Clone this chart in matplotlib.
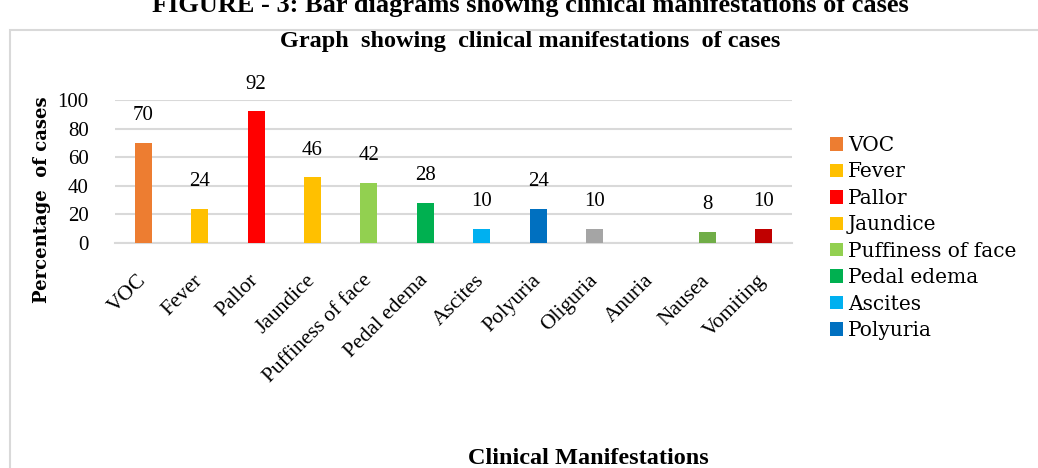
import matplotlib.pyplot as plt
from matplotlib.patches import Patch, Rectangle
from matplotlib.transforms import ScaledTranslation

# clinical manifestations, percentage of cases
symptoms = ["VOC", "Fever", "Pallor", "Jaundice", "Puffiness of face", "Pedal edema",
            "Ascites", "Polyuria", "Oliguria", "Anuria", "Nausea", "Vomiting"]
percent = [70, 24, 92, 46, 42, 28, 10, 24, 10, 0, 8, 10]
colors = ["#ED7D31", "#FFC000", "#FF0000", "#FFC000", "#92D050", "#00B050",
          "#00B0F0", "#0070C0", "#A5A5A5", "#FFFFFF", "#70AD47", "#C00000"]
y_ticks = [0, 20, 40, 60, 80, 100]
n_legend = 8  # legend box only has room for the first eight entries

serif = ["Liberation Serif", "DejaVu Serif"]
grid_c = "#d9d9d9"

W, H = 1038, 468
fig = plt.figure(figsize=(W / 100, H / 100), dpi=100)

# chart frame (runs off the right and bottom edges)
fig.patches.append(Rectangle((10 / W, -0.1), 1.2, (H - 30) / H + 0.1,
                             transform=fig.transFigure, fill=False,
                             edgecolor=grid_c, lw=1.5))

fig.text(530 / W, 1 - 12 / H, "FIGURE - 3: Bar diagrams showing clinical manifestations of cases",
         ha="center", va="baseline", family=serif, weight="bold", fontsize=19)
fig.text(530 / W, 1 - 42 / H, "Graph  showing  clinical manifestations  of cases",
         ha="center", va="center", family=serif, weight="bold", fontsize=17.5)

ax = fig.add_axes([115 / W, 225 / H, 677 / W, 143 / H])
x = range(len(symptoms))
ax.bar(x, percent, width=0.3, color=colors, zorder=3)
for xi, v in zip(x, percent):
    if v > 0:
        ax.text(xi, v + 19, str(v), ha="center", va="center",
                family=serif, fontsize=15)

ax.set_xlim(-0.5, len(symptoms) - 0.5)
ax.set_ylim(0, 100)
ax.set_yticks(y_ticks)
ax.set_yticklabels([str(t) for t in y_ticks], family=serif, fontsize=15)
ax.set_xticks(list(x))
ax.set_xticklabels(symptoms, rotation=45, ha="right", va="center",
                   rotation_mode="anchor", family=serif, fontsize=15.5)
shift = ScaledTranslation(5 / 100, 0, fig.dpi_scale_trans)
for lbl in ax.get_xticklabels():
    lbl.set_transform(lbl.get_transform() + shift)
ax.tick_params(length=0)
ax.tick_params(axis="x", pad=25)
ax.tick_params(axis="y", pad=19)
ax.grid(axis="y", color=grid_c, lw=1.5, zorder=0)
for s in ["top", "right", "left"]:
    ax.spines[s].set_visible(False)
ax.spines["bottom"].set_color(grid_c)
ax.spines["bottom"].set_linewidth(1.5)

fig.text(42 / W, 1 - 200 / H, "Percentage  of cases", rotation=90, ha="center",
         va="center", family="DejaVu Serif", weight="bold", fontsize=13)
fig.text(588 / W, 1 - 458 / H, "Clinical Manifestations", ha="center",
         va="center", family=serif, weight="bold", fontsize=17.5)

handles = [Patch(facecolor=c) for c in colors[:n_legend]]
fig.legend(handles, symptoms[:n_legend], loc="upper left",
           bbox_to_anchor=(830 / W, 1 - 136 / H), frameon=False,
           prop={"family": "DejaVu Serif", "size": 14.5},
           handlelength=0.65, handleheight=0.65, handletextpad=0.25,
           labelspacing=0.37, borderaxespad=0, borderpad=0)

fig.savefig("out.png", dpi=100)
